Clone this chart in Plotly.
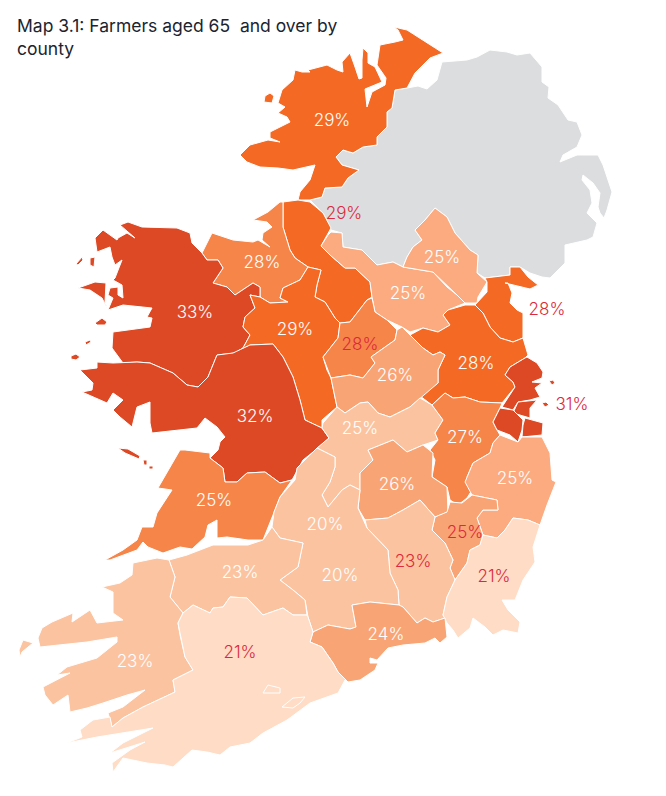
import plotly.graph_objects as go

TITLE = "Map 3.1: Farmers aged 65\u00a0 and over by<br>county"

DONEGAL = [(240,155),(250,145),(268,140),(280,142),(270,138),(270,132),(290,122),(287,117),(278,113),(285,107),(278,103),(282,90),(293,80),(295,70),(302,72),(310,72),(308,70),(316,68),(327,65),(337,70),(343,72),(342,62),(350,53),(355,67),(359,79),(362,78),(362,60),(363,48),(368,53),(368,63),(375,67),(382,82),(365,89),(367,107),(372,92),(385,85),(386,78),(377,65),(380,45),(395,42),(403,40),(398,30),(394,27),(407,30),(420,38),(443,53),(430,58),(415,73),(407,88),(395,90),(392,108),(387,112),(387,127),(377,137),(377,145),(363,147),(353,153),(343,150),(336,157),(342,165),(359,170),(348,178),(342,187),(325,188),(322,197),(310,200),(298,200),(300,192),(310,180),(315,165),(293,170),(278,168),(260,167),(247,162)]
DONEGAL_ISLAND = [(265,96),(270,93),(274,96),(272,103),(264,102)]
GREY_NI = [(377,145),(377,137),(387,127),(387,112),(392,108),(395,90),(407,88),(418,86),(427,89),(437,80),(442,62),(467,60),(477,57),(490,50),(507,52),(517,55),(530,53),(542,67),(542,82),(549,87),(548,98),(558,105),(568,120),(577,122),(582,135),(577,147),(563,155),(560,162),(577,155),(598,155),(603,165),(612,192),(607,210),(604,218),(600,213),(598,207),(600,193),(593,183),(583,175),(582,180),(590,190),(592,203),(587,213),(597,223),(593,237),(587,240),(565,245),(565,263),(550,278),(542,277),(530,273),(520,267),(510,267),(510,275),(485,278),(477,273),(478,255),(470,250),(455,233),(447,217),(435,208),(425,220),(415,230),(422,240),(413,247),(407,257),(403,267),(393,262),(377,265),(362,250),(343,247),(342,233),(331,230),(323,213),(310,200),(322,197),(325,188),(342,187),(348,178),(359,170),(342,165),(336,157),(343,150),(353,153),(363,147)]
LEITRIM = [(283,202),(298,200),(310,202),(323,213),(331,228),(321,246),(330,255),(345,268),(355,268),(370,282),(372,297),(367,300),(350,322),(340,323),(335,318),(325,302),(315,297),(317,285),(321,270),(308,267),(295,258),(290,250),(283,227)]
SLIGO = [(283,202),(283,227),(290,250),(295,258),(308,267),(300,280),(283,288),(280,298),(288,302),(270,303),(260,297),(260,287),(253,283),(235,295),(227,287),(213,283),(223,268),(218,260),(207,260),(202,253),(212,233),(233,240),(253,242),(258,240),(270,247),(262,240),(263,233),(272,227),(267,222),(253,220),(268,212),(280,202)]
MAYO = [(120,225),(128,222),(142,227),(177,228),(190,233),(192,243),(202,253),(207,260),(218,260),(223,268),(213,283),(227,287),(235,295),(253,283),(260,287),(260,297),(250,295),(255,308),(245,317),(243,327),(250,335),(243,348),(235,353),(217,355),(208,377),(198,387),(187,385),(173,373),(150,363),(137,362),(123,363),(112,348),(113,332),(150,327),(152,318),(147,317),(152,308),(123,305),(108,310),(113,298),(108,295),(110,288),(118,287),(118,295),(123,298),(122,285),(113,280),(115,278),(122,260),(115,265),(112,257),(110,247),(97,252),(95,238),(103,230),(117,240),(118,238),(127,233),(135,238),(122,227)]
ACHILL = [(78,288),(95,282),(106,283),(105,302),(107,308),(102,298),(90,290)]
MAYO_ISLE_A = [(76,264),(82,257),(83,260),(78,265)]
MAYO_ISLE_B = [(90,258),(95,257),(94,267),(90,265)]
CLARE_ISLAND = [(95,323),(102,318),(107,322),(105,325),(97,325)]
ROSCOMMON = [(321,270),(317,285),(315,297),(325,302),(335,318),(340,323),(338,338),(323,357),(327,370),(331,378),(337,407),(322,420),(322,428),(305,420),(300,400),(293,377),(283,357),(273,344),(250,345),(235,353),(243,348),(250,335),(243,327),(245,317),(255,308),(250,295),(260,297),(270,303),(288,302),(280,298),(283,288),(300,280),(308,267)]
GALWAY = [(80,370),(97,368),(97,362),(113,363),(137,362),(150,363),(173,373),(187,385),(198,387),(208,377),(217,355),(233,353),(250,345),(273,344),(283,357),(293,377),(300,400),(305,420),(322,428),(329,438),(318,448),(303,460),(292,480),(280,483),(265,472),(247,473),(237,482),(225,482),(223,468),(210,458),(218,450),(220,442),(225,437),(217,427),(205,418),(197,428),(152,433),(150,423),(150,402),(137,407),(132,427),(120,417),(113,410),(123,400),(113,393),(107,403),(82,392),(92,390),(93,383)]
ARAN_A = [(118,448),(128,449),(140,456),(139,459),(125,453)]
ARAN_B = [(143,460),(147,460),(147,465),(144,465)]
ARAN_C = [(149,466),(153,466),(153,469),(149,469)]
INISHBOFIN = [(71,356),(76,354),(80,357),(76,360),(71,359)]
INISHARK = [(85,342),(90,340),(91,342),(86,345)]
CLARE = [(105,560),(123,550),(137,540),(142,527),(153,527),(157,513),(172,490),(158,488),(180,450),(185,450),(210,453),(210,458),(223,468),(225,482),(237,482),(247,473),(265,472),(280,483),(292,480),(280,497),(275,510),(268,528),(263,540),(248,540),(227,537),(217,538),(217,520),(208,525),(205,537),(192,549),(180,547),(163,553),(148,547),(143,542),(137,550),(110,560)]
CAVAN = [(321,246),(328,235),(331,232),(342,233),(343,247),(362,250),(377,265),(393,262),(403,267),(433,272),(447,287),(457,295),(465,303),(448,310),(443,315),(450,325),(438,332),(423,328),(410,332),(402,327),(387,320),(375,312),(372,297),(370,282),(355,268),(345,268),(330,255)]
MONAGHAN = [(435,208),(447,217),(455,233),(470,250),(478,255),(477,273),(487,282),(478,297),(477,303),(465,303),(457,295),(433,272),(403,267),(407,257),(413,247),(422,240),(415,230),(425,220)]
LOUTH = [(485,278),(510,275),(510,267),(520,267),(528,277),(538,285),(530,289),(513,285),(505,283),(508,283),(512,293),(510,303),(517,310),(523,313),(523,338),(513,342),(500,338),(490,327),(483,313),(475,305),(480,300),(487,292),(487,282)]
MEATH = [(465,305),(475,305),(483,313),(490,327),(500,338),(513,342),(523,338),(528,355),(525,358),(510,367),(505,375),(513,382),(515,387),(502,403),(480,402),(465,397),(453,398),(445,393),(432,405),(420,396),(438,383),(438,370),(445,355),(440,352),(433,355),(423,348),(410,335),(423,328),(438,332),(450,325),(443,315),(448,310)]
LONGFORD = [(340,323),(350,322),(367,300),(372,298),(375,312),(387,320),(397,330),(395,340),(378,352),(371,357),(375,363),(363,378),(350,375),(331,378),(323,357),(338,338)]
WESTMEATH = [(331,378),(350,375),(363,378),(375,363),(371,357),(378,352),(395,340),(397,330),(402,327),(410,335),(423,348),(433,355),(440,352),(445,355),(438,370),(438,383),(420,398),(410,407),(390,417),(378,413),(368,402),(360,403),(345,413),(337,407)]
OFFALY = [(323,423),(337,407),(345,413),(360,403),(368,402),(378,413),(390,417),(410,407),(420,398),(432,405),(438,413),(443,420),(435,433),(438,440),(423,445),(407,452),(393,440),(368,450),(373,460),(360,473),(360,490),(350,485),(342,490),(328,507),(322,495),(330,482),(335,467),(335,457),(317,448),(329,438),(322,428)]
KILDARE = [(432,405),(445,393),(453,398),(465,397),(480,402),(502,403),(500,408),(493,422),(497,430),(500,435),(493,443),(490,453),(473,463),(467,477),(472,490),(467,498),(458,505),(450,500),(447,487),(432,477),(435,460),(430,450),(438,440),(435,433),(443,420),(438,413)]
FINGAL = [(527,357),(537,363),(543,372),(542,378),(532,382),(542,383),(535,388),(540,397),(530,400),(518,402),(513,410),(502,407),(515,387),(513,382),(505,375),(510,367),(525,358)]
DUBLIN_CITY = [(518,402),(537,400),(530,408),(530,418),(513,413)]
SOUTH_DUBLIN = [(500,408),(513,410),(523,420),(522,430),(518,442),(510,435),(497,430),(493,422)]
DUN_LAOGHAIRE = [(525,418),(543,423),(542,435),(522,437),(523,425)]
DALKEY_A = [(549,381),(553,380),(555,383),(552,385)]
DALKEY_B = [(542,403),(546,402),(549,405),(545,407)]
WICKLOW = [(500,435),(518,442),(522,437),(542,437),(550,453),(552,480),(556,482),(547,505),(540,525),(528,520),(513,518),(505,530),(497,538),(483,535),(477,518),(483,510),(498,510),(497,500),(472,495),(465,482),(473,463),(490,453),(493,443)]
LAOIS = [(368,450),(393,440),(407,452),(423,445),(433,453),(432,477),(447,487),(448,512),(435,517),(420,500),(403,510),(388,518),(365,520),(358,508),(360,490),(360,473),(373,460)]
CARLOW = [(435,517),(447,512),(450,502),(462,503),(472,495),(497,500),(498,510),(483,510),(477,518),(483,535),(480,545),(470,550),(467,563),(455,580),(450,568),(453,560),(445,543),(432,530)]
KILKENNY = [(365,520),(388,518),(403,510),(420,500),(435,517),(432,530),(445,543),(453,560),(450,568),(455,580),(447,597),(443,615),(445,618),(433,622),(425,618),(417,623),(403,607),(399,605),(398,590),(390,573),(388,550),(367,528)]
WEXFORD = [(483,535),(497,538),(505,530),(513,518),(528,520),(540,525),(533,547),(535,562),(523,580),(515,600),(502,600),(508,610),(520,622),(518,633),(503,630),(493,635),(485,627),(473,618),(470,628),(458,638),(453,630),(447,623),(443,615),(447,597),(455,580),(467,563),(470,550),(480,545)]
TIPPERARY = [(317,448),(297,468),(295,480),(280,497),(274,512),(272,527),(280,538),(303,543),(298,567),(280,580),(293,590),(305,600),(308,617),(313,632),(328,625),(350,629),(356,627),(352,605),(370,602),(399,605),(398,590),(390,573),(388,550),(367,528),(358,508),(360,490),(350,485),(342,490),(328,507),(322,495),(330,482),(335,467),(335,457)]
WATERFORD = [(313,632),(328,625),(350,629),(356,627),(352,605),(370,602),(399,605),(403,607),(417,623),(425,618),(433,622),(445,618),(447,637),(440,643),(435,638),(425,643),(403,645),(388,648),(377,660),(370,658),(370,663),(378,663),(375,670),(360,680),(348,682),(338,672),(333,663),(322,647),(310,642)]
LIMERICK = [(169,560),(187,555),(213,545),(248,545),(263,540),(272,527),(280,538),(303,543),(298,567),(280,580),(293,590),(305,600),(307,615),(293,615),(283,608),(263,615),(247,598),(230,597),(223,607),(213,608),(210,613),(193,605),(183,613),(170,597),(175,577)]
KERRY = [(169,560),(175,577),(170,597),(183,613),(178,623),(180,635),(185,657),(193,670),(173,680),(175,692),(158,700),(143,707),(123,718),(112,727),(108,713),(123,707),(145,690),(127,695),(103,703),(87,708),(70,712),(68,695),(53,705),(45,695),(43,687),(70,673),(57,675),(67,667),(97,658),(117,642),(117,637),(87,642),(40,647),(38,638),(42,628),(52,622),(73,613),(72,622),(90,610),(97,623),(123,620),(113,613),(113,592),(102,587),(120,583),(132,575),(133,563),(157,558)]
KERRY_ISLE = [(23,640),(33,643),(22,652),(20,657),(19,650)]
CORK = [(183,613),(193,605),(210,613),(213,608),(223,607),(230,597),(247,598),(263,615),(283,608),(293,615),(307,615),(308,617),(313,632),(310,642),(322,647),(333,663),(338,672),(348,682),(345,680),(338,693),(310,703),(287,720),(263,733),(250,743),(230,747),(220,755),(207,752),(192,750),(173,767),(165,765),(147,763),(123,758),(113,772),(112,763),(130,750),(145,742),(110,753),(123,743),(153,728),(97,737),(67,743),(82,737),(80,730),(93,720),(110,717),(112,727),(123,718),(143,707),(158,700),(175,692),(173,680),(193,670),(185,657),(180,635),(178,623)]
CORK_LOOP_A = [(263,693),(268,685),(280,688),(280,693)]
CORK_LOOP_B = [(282,707),(293,698),(305,697),(300,703),(293,708)]

DARK, ORANGE, MID, PEACH, SAND, LIGHT, PALE = "#DE4925", "#F46A25", "#F6854A", "#FBAB7F", "#F9A474", "#FCC3A0", "#FEDCC6"

GREY = "#DCDDDF"
county_shapes = [
    ("Northern Ireland", [GREY_NI], GREY), ("Donegal", [DONEGAL, DONEGAL_ISLAND], ORANGE), ("Leitrim", [LEITRIM], ORANGE),
    ("Sligo", [SLIGO], MID), ("Mayo", [MAYO, ACHILL, MAYO_ISLE_A, MAYO_ISLE_B, CLARE_ISLAND], DARK),
    ("Roscommon", [ROSCOMMON], ORANGE), ("Galway", [GALWAY, ARAN_A, ARAN_B, ARAN_C, INISHBOFIN, INISHARK], DARK),
    ("Clare", [CLARE], MID), ("Cavan", [CAVAN], PEACH), ("Monaghan", [MONAGHAN], PEACH), ("Louth", [LOUTH], ORANGE),
    ("Meath", [MEATH], ORANGE), ("Longford", [LONGFORD], MID), ("Westmeath", [WESTMEATH], SAND), ("Offaly", [OFFALY], LIGHT),
    ("Kildare", [KILDARE], MID), ("Fingal", [FINGAL, DALKEY_A, DALKEY_B], DARK), ("Dublin City", [DUBLIN_CITY], DARK),
    ("South Dublin", [SOUTH_DUBLIN], DARK), ("Dun Laoghaire", [DUN_LAOGHAIRE], DARK), ("Wicklow", [WICKLOW], PEACH),
    ("Laois", [LAOIS], SAND), ("Carlow", [CARLOW], SAND), ("Kilkenny", [KILKENNY], LIGHT), ("Wexford", [WEXFORD], PALE),
    ("Tipperary", [TIPPERARY], LIGHT), ("Waterford", [WATERFORD], SAND), ("Limerick", [LIMERICK], LIGHT),
    ("Kerry", [KERRY, KERRY_ISLE], LIGHT), ("Cork", [CORK], PALE), ("Cork loops", [CORK_LOOP_A, CORK_LOOP_B], PALE),
]

label_text = ["29%","29%","28%","33%","29%","32%","25%","25%","25%","28%","28%","28%","26%","25%","27%","31%","25%","26%","25%","20%","20%","23%","21%","24%","23%","23%","21%"]
label_x = [332,344,262,195,295,255,214,442,408,547,476,360,395,360,465,572,515,397,465,325,340,413,494,386,240,135,240]
label_y = [122,215,264,314,331,418,502,259,295,311,365,346,377,430,439,406,480,486,534,526,577,563,578,636,574,663,654]
label_white = [1,0,1,1,1,1,1,1,1,0,1,0,1,1,1,0,1,1,0,1,1,0,0,1,1,1,0]

fig = go.Figure()
for name, parts, color in county_shapes:
    xs, ys = [], []
    for part in parts:
        xs += [p[0] for p in part] + [part[0][0], None]
        ys += [p[1] for p in part] + [part[0][1], None]
    fig.add_trace(go.Scatter(x=xs, y=ys, mode="lines", fill="toself", fillcolor=color, name=name,
                             line=dict(color="white", width=1.0), hoverinfo="name", showlegend=False))

for want, col in ((1, "#FFFFFF"), (0, "#DB2A3C")):
    idx = [i for i, w in enumerate(label_white) if w == want]
    fig.add_trace(go.Scatter(x=[label_x[i] for i in idx], y=[label_y[i] for i in idx],
                             text=[label_text[i] for i in idx], mode="text", textposition="middle center",
                             textfont=dict(family="Inter", size=17, color=col, weight=300),
                             hoverinfo="skip", showlegend=False))

fig.add_annotation(text=TITLE, x=15, y=13, xref="x", yref="y", xanchor="left", yanchor="top", align="left",
                   showarrow=False, font=dict(family="Inter", size=17.5, color="#1B2430", weight=400))
# The page body has a default 8 px margin: the axis ranges start at 8 so data units equal page pixels.
fig.update_layout(width=666, height=796, margin=dict(l=0, r=0, t=0, b=0), paper_bgcolor="white", plot_bgcolor="white",
                  xaxis=dict(range=[8, 674], visible=False, fixedrange=True),
                  yaxis=dict(range=[804, 8], visible=False, fixedrange=True))
fig.write_html("out.html", config={"displayModeBar": False})
